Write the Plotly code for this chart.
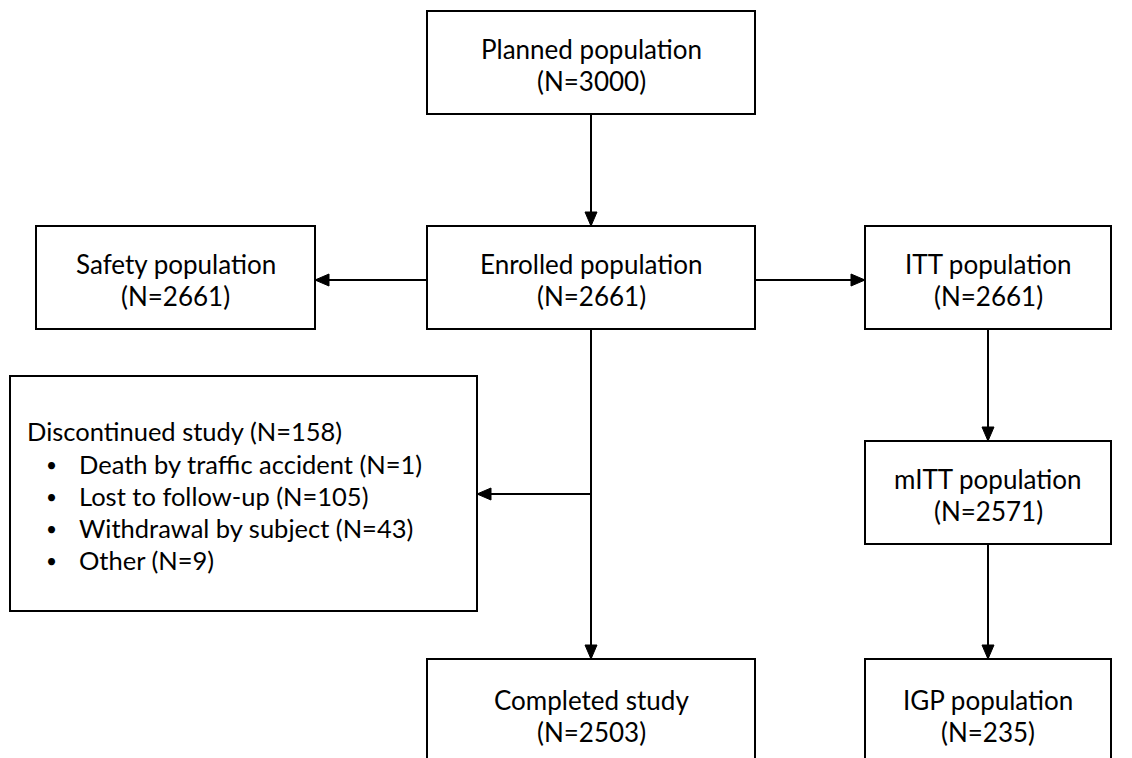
import plotly.graph_objects as go

# ---- data ----
box_names = ["Planned population", "Enrolled population", "Safety population",
             "ITT population", "mITT population", "Completed study", "IGP population"]
box_counts = [3000, 2661, 2661, 2661, 2571, 2503, 235]
disc_title = "Discontinued study"
disc_total = 158
disc_reasons = ["Death by traffic accident", "Lost to follow-up", "Withdrawal by subject", "Other"]
disc_counts = [1, 105, 43, 9]

# ---- layout (pixel space) ----
W, H = 1132, 758
OFF = 8  # page body margin
FONT = "Lato, Carlito, 'Open Sans', sans-serif"
FS = 26
FS_LIST = 25.5
boxes = {  # x0, y0, x1, y1
    "Planned population": (427, 11, 755, 114),
    "Enrolled population": (427, 226, 755, 329),
    "Safety population": (36, 226, 315, 329),
    "ITT population": (865, 226, 1111, 329),
    "mITT population": (865, 441, 1111, 544),
    "Completed study": (427, 659, 755, 790),
    "IGP population": (865, 659, 1111, 790),
}
disc_box = (10, 376, 477, 611)

fig = go.Figure()
shapes, annos = [], []
LW = 2

def rect(b):
    shapes.append(dict(type="rect", x0=b[0], y0=b[1], x1=b[2], y1=b[3],
                       line=dict(color="black", width=LW), fillcolor="white", layer="below"))

def line(x0, y0, x1, y1):
    shapes.append(dict(type="line", x0=x0, y0=y0, x1=x1, y1=y1,
                       line=dict(color="black", width=LW)))

def head(x, y, d):
    L, hw = 14, 6
    if d == "down":
        p = f"M{x},{y} L{x-hw},{y-L} L{x+hw},{y-L} Z"
    elif d == "left":
        p = f"M{x},{y} L{x+L},{y-hw} L{x+L},{y+hw} Z"
    else:
        p = f"M{x},{y} L{x-L},{y-hw} L{x-L},{y+hw} Z"
    shapes.append(dict(type="path", path=p, fillcolor="black", line=dict(color="black", width=1)))

def text(x, y, s, xanchor="center", size=FS):
    annos.append(dict(x=x, y=y, xref="x", yref="y", text=s, showarrow=False,
                      xanchor=xanchor, yanchor="middle",
                      font=dict(family=FONT, size=size, color="black")))

for name, cnt in zip(box_names, box_counts):
    b = boxes[name]
    rect(b)
    cx = (b[0] + b[2]) / 2
    cy = (b[1] + b[3]) / 2 if b[3] < 760 else b[1] + 55
    text(cx, cy - 14, name)
    text(cx, cy + 18, f"(N={cnt})")

rect(disc_box)
text(25, 431, f"{disc_title} (N={disc_total})", "left", FS_LIST)
for i, (r, c) in enumerate(zip(disc_reasons, disc_counts)):
    y = 464 + i * 32
    text(51, y, "•", "center", size=19)
    text(77, y, f"{r} (N={c})", "left", FS_LIST)

# arrows
cxm = 591
cxr = 988
line(cxm, 114, cxm, 226); head(cxm, 226, "down")
line(427, 280, 315, 280); head(315, 280, "left")
line(755, 280, 865, 280); head(865, 280, "right")
line(cxm, 329, cxm, 659); head(cxm, 659, "down")
line(cxm, 494, 477, 494); head(477, 494, "left")
line(cxr, 329, cxr, 441); head(cxr, 441, "down")
line(cxr, 544, cxr, 659); head(cxr, 659, "down")

fig.update_layout(
    width=W, height=H, margin=dict(l=0, r=0, t=0, b=0),
    paper_bgcolor="white", plot_bgcolor="white",
    xaxis=dict(range=[OFF, W + OFF], visible=False, fixedrange=True),
    yaxis=dict(range=[H + OFF, OFF], visible=False, fixedrange=True),
    shapes=shapes, annotations=annos, showlegend=False,
)
fig.write_html("out.html")
